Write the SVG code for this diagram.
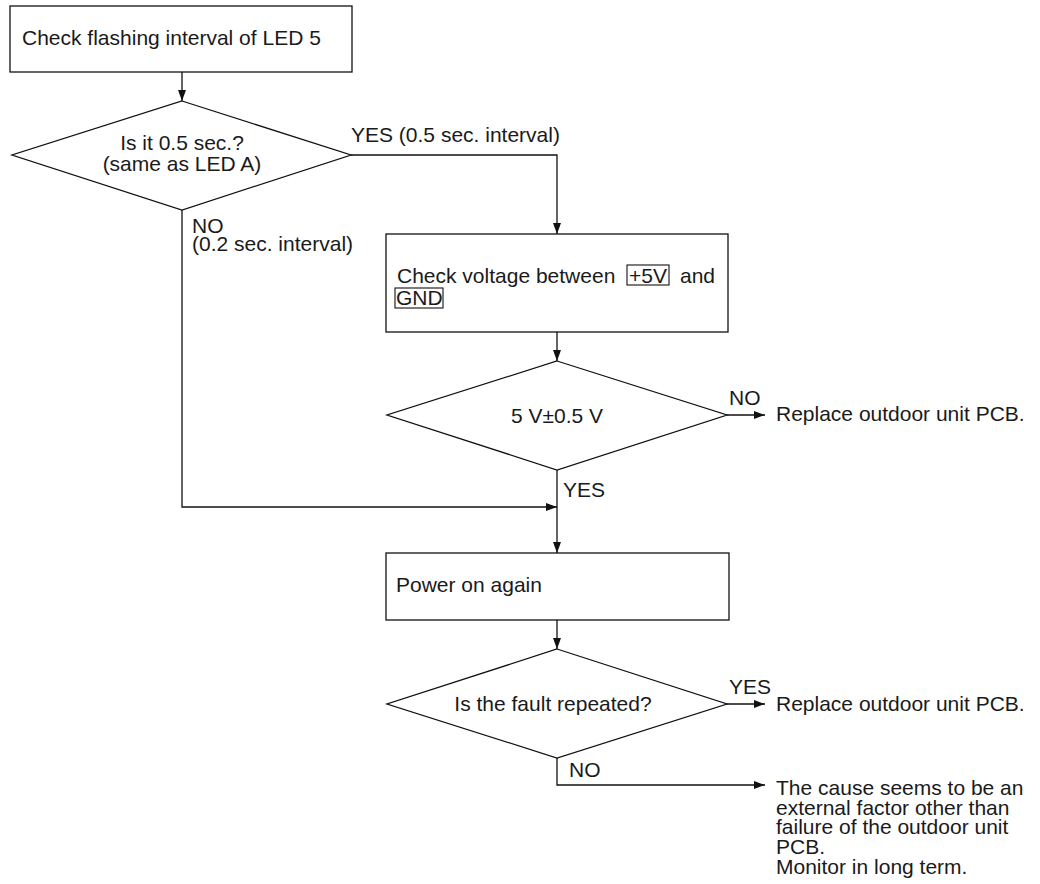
<svg xmlns="http://www.w3.org/2000/svg" width="1040" height="884" viewBox="0 0 1040 884">
<style>
.n{fill:#fff;stroke:#111;stroke-width:1.3}
.t{font-family:"Liberation Sans",Arial,sans-serif;font-size:21px;fill:#1a1a1a}
.c{text-anchor:middle}
.e{fill:none;stroke:#111;stroke-width:1.3}
.k{fill:none;stroke:#111;stroke-width:1.1}
</style>
<defs>
<marker id="ah" markerWidth="12" markerHeight="8" refX="11" refY="4" orient="auto" markerUnits="userSpaceOnUse">
<path d="M0,0 L11,4 L0,8 Z" fill="#111"/>
</marker>
</defs>
<rect width="1040" height="884" fill="#fff"/>
<g id="connectors">
<path class="e" d="M182,72 V101" marker-end="url(#ah)"/>
<path class="e" d="M351,155 H557 V234" marker-end="url(#ah)"/>
<path class="e" d="M182,210 V507 H557" marker-end="url(#ah)"/>
<path class="e" d="M557,332 V361" marker-end="url(#ah)"/>
<path class="e" d="M727,415 H765" marker-end="url(#ah)"/>
<path class="e" d="M557,470 V553" marker-end="url(#ah)"/>
<path class="e" d="M557,620 V649" marker-end="url(#ah)"/>
<path class="e" d="M727,704 H765" marker-end="url(#ah)"/>
<path class="e" d="M557,758 V785 H765" marker-end="url(#ah)"/>
<text class="t" x="351" y="142">YES (0.5 sec. interval)</text>
<text class="t" x="192" y="233">NO</text>
<text class="t" x="192" y="251">(0.2 sec. interval)</text>
<text class="t" x="729" y="405">NO</text>
<text class="t" x="563" y="497">YES</text>
<text class="t" x="729" y="694">YES</text>
<text class="t" x="569" y="777">NO</text>
</g>
<g id="n1">
<rect class="n" x="10" y="6" width="342" height="66"/>
<text class="t" x="22" y="45">Check flashing interval of LED 5</text>
</g>
<g id="d1">
<polygon class="n" points="182,101 351,155 182,210 12,155"/>
<text class="t c" x="182" y="150">Is it 0.5 sec.?</text>
<text class="t c" x="182" y="171">(same as LED A)</text>
</g>
<g id="n2">
<rect class="n" x="386" y="234" width="342" height="98"/>
<text class="t" x="397" y="283">Check voltage between <tspan x="629">+5V</tspan><tspan x="680">and</tspan></text>
<rect class="k" x="627" y="265" width="42" height="20"/>
<text class="t" x="396" y="305">GND</text>
<rect class="k" x="395" y="288" width="48" height="20"/>
</g>
<g id="d2">
<polygon class="n" points="557,361 727,415 557,470 387,415"/>
<text class="t c" x="557" y="423">5 V±0.5 V</text>
</g>
<g id="r1">
<text class="t" x="776" y="421">Replace outdoor unit PCB.</text>
</g>
<g id="n3">
<rect class="n" x="386" y="553" width="343" height="67"/>
<text class="t" x="396" y="592">Power on again</text>
</g>
<g id="d3">
<polygon class="n" points="557,649 727,704 557,758 387,704"/>
<text class="t c" x="553" y="711">Is the fault repeated?</text>
</g>
<g id="r2">
<text class="t" x="776" y="711">Replace outdoor unit PCB.</text>
</g>
<g id="r3">
<text class="t" x="776" y="795">The cause seems to be an</text>
<text class="t" x="776" y="815">external factor other than</text>
<text class="t" x="776" y="834">failure of the outdoor unit</text>
<text class="t" x="776" y="854">PCB.</text>
<text class="t" x="776" y="874">Monitor in long term.</text>
</g>
</svg>
